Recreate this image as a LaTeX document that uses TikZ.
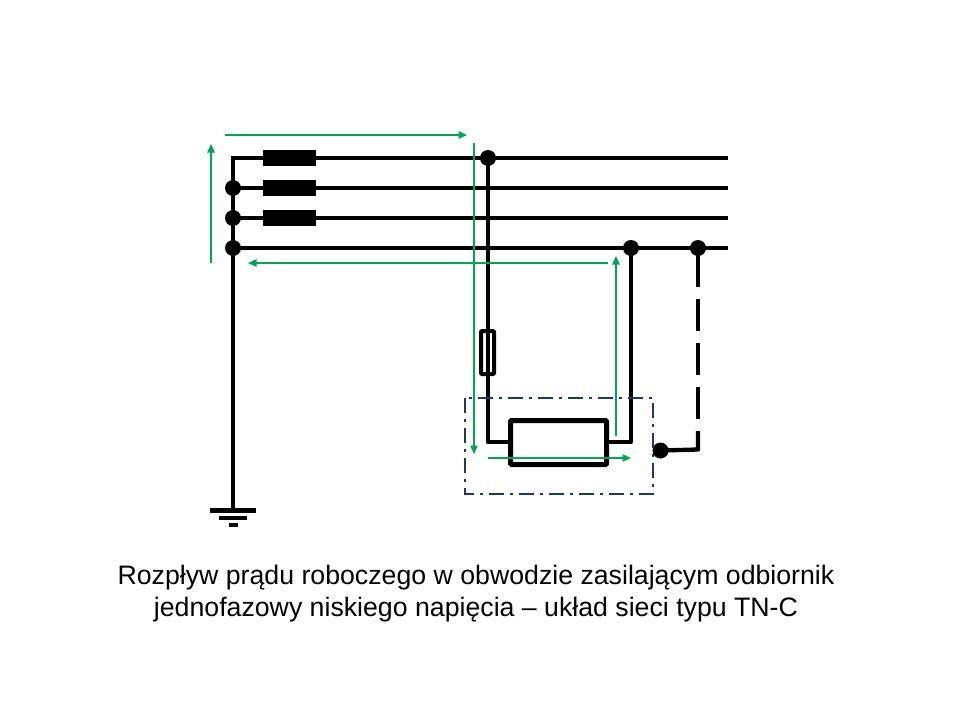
\documentclass[tikz,border=0pt]{standalone}
\usepackage{fontspec}
\setmainfont{Liberation Sans}
\usetikzlibrary{arrows.meta,calc}
\definecolor{flow}{HTML}{00A651}
\definecolor{boxblue}{HTML}{1F3864}
\tikzset{
  wire/.style={line width=4.3pt,black},
  dot/.style={circle,fill=black,draw=none,minimum size=16pt,inner sep=0pt},
  fusebox/.style={rectangle,fill=black,draw=none,minimum width=53pt,minimum height=16pt,inner sep=0pt},
  flowarrow/.style={line width=1.4pt,flow,-{Triangle[length=8.5pt,width=7.5pt]}},
  caption/.style={font=\fontsize{26.7pt}{32pt}\selectfont,align=center,inner sep=0pt}
}
\begin{document}
\begin{tikzpicture}[x=1pt,y=-1pt]
\useasboundingbox (0,0) rectangle (960,720);
% junctions
\node[dot] (j2) at (233,188) {};
\node[dot] (j3) at (233,218) {};
\node[dot] (j4) at (233,248) {};
\node[dot] (top) at (488,158) {};
\node[dot] (n1) at (631,248) {};
\node[dot] (n2) at (698,248) {};
\node[dot] (pe) at (660.5,450.5) {};
% coordinates
\coordinate (corner) at (233,158);
\coordinate (gnd) at (233,510);
\coordinate (e1) at (728,158);
\coordinate (e2) at (728,188);
\coordinate (e3) at (728,218);
\coordinate (e4) at (728,248);
\coordinate (lb) at (488,442);
\coordinate (rb) at (631,442);
\coordinate (db) at (698,449.5);
% wires
\draw[wire,line join=miter] (e1) -- (corner) -- (gnd);
\draw[wire] (j2.center) -- (e2);
\draw[wire] (j3.center) -- (e3);
\draw[wire] (j4.center) -- (e4);
% phase fuses
\node[fusebox] (f1) at (289.5,158) {};
\node[fusebox] (f2) at (289.5,188) {};
\node[fusebox] (f3) at (289.5,218) {};
% load
\node[draw=black,line width=5pt,rounded corners=1pt,minimum width=96pt,minimum height=44pt,inner sep=0pt,outer sep=0pt] (load) at (558.5,442.5) {};
\draw[wire,line join=round] (top.center) -- (lb) -- (load.west |- lb);
\draw[wire,line join=round] (n1.center) -- (rb) -- (load.east |- rb);
% fuse in the phase lead
\node[draw=black,line width=4pt,rounded corners=1pt,minimum width=13pt,minimum height=43pt,inner sep=0pt,outer sep=0pt] (fz) at (487.5,352.5) {};
% protective conductor (dashed)
\draw[line width=4.3pt,black,dash pattern=on 32pt off 12pt,dash phase=37pt] (n2.center) -- (db);
\draw[wire,line join=round] (698,431) -- (db) -- (pe.center);
% ground
\draw[line width=5pt] (210,510) -- (256,510);
\draw[line width=3.3pt] (219,518) -- (247,518);
\draw[line width=3.3pt] (229,525) -- (238,525);
% enclosure
\draw[boxblue,line width=2pt,dash pattern=on 15pt off 6pt on 3pt off 6pt] (465,398) rectangle (653,494);
% flow arrows
\coordinate (a1s) at (225,135); \coordinate (a1e) at (467,135);
\coordinate (a2s) at (211,263); \coordinate (a2e) at (211,144);
\coordinate (a3s) at (474,143); \coordinate (a3e) at (474,454);
\coordinate (a4s) at (608,263); \coordinate (a4e) at (248,263);
\coordinate (a5s) at (616,436); \coordinate (a5e) at (616,256);
\coordinate (a6s) at (488,458); \coordinate (a6e) at (631,458);
\draw[flowarrow] (a1s) -- (a1e);
\draw[flowarrow] (a2s) -- (a2e);
\draw[flowarrow] (a3s) -- (a3e);
\draw[flowarrow] (a4s) -- (a4e);
\draw[flowarrow] (a5s) -- (a5e);
\draw[flowarrow] (a6s) -- (a6e);
% caption
\node[caption] (cap) at (476,594) {Rozpływ prądu roboczego w obwodzie zasilającym odbiornik\\jednofazowy niskiego napięcia – układ sieci typu TN-C};
\end{tikzpicture}
\end{document}
